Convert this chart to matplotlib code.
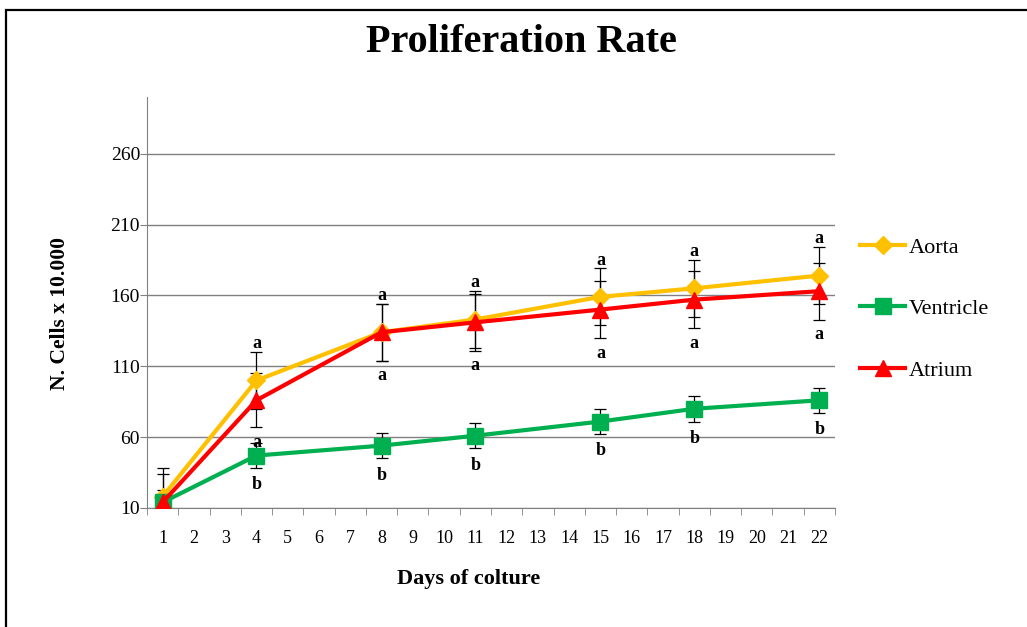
import matplotlib.pyplot as plt
import matplotlib.patches as patches

# dane
days = [1, 4, 8, 11, 15, 18, 22]
aorta = [18, 100, 134, 143, 159, 165, 174]
ventricle = [14, 47, 54, 61, 71, 80, 86]
atrium = [14, 86, 134, 141, 150, 157, 163]
aorta_err = [20, 20, 20, 20, 20, 20, 20]
ventricle_err = [9, 9, 9, 9, 9, 9, 9]
atrium_err = [20, 19, 20, 20, 20, 20, 20]
aorta_sig = ['', 'a', 'a', 'a', 'a', 'a', 'a']
ventricle_sig = ['', 'b', 'b', 'b', 'b', 'b', 'b']
atrium_sig = ['', 'a', 'a', 'a', 'a', 'a', 'a']
yticks = [10, 60, 110, 160, 210, 260]

plt.rcParams['font.family'] = ['Liberation Serif', 'DejaVu Serif']

fig = plt.figure(figsize=(10.27, 6.27), dpi=100)
ax = fig.add_axes([0.1431, 0.1898, 0.6699, 0.6555])

# ramka wykresu
fig.patches.append(patches.Rectangle((5.5 / 1027, -0.1), 1.2, (627 - 9.5) / 627 + 0.1,
                                     transform=fig.transFigure, fill=False,
                                     edgecolor='black', linewidth=1.6, clip_on=False))

ax.errorbar(days, aorta, yerr=aorta_err, fmt='none', ecolor='black', elinewidth=0.9, capsize=4, capthick=0.9, zorder=2)
ax.errorbar(days, atrium, yerr=atrium_err, fmt='none', ecolor='black', elinewidth=0.9, capsize=4, capthick=0.9, zorder=2)
ax.errorbar(days, ventricle, yerr=ventricle_err, fmt='none', ecolor='black', elinewidth=0.9, capsize=4, capthick=0.9, zorder=2)

ax.plot(days, aorta, color='#FFC000', lw=3, marker='D', ms=9, label='Aorta', zorder=3)
ax.plot(days, ventricle, color='#00B050', lw=3, marker='s', ms=11, label='Ventricle', zorder=4)
ax.plot(days, atrium, color='#FF0000', lw=3, marker='^', ms=12, label='Atrium', zorder=5)

# litery istotnosci
for d, v, e, s in zip(days, aorta, aorta_err, aorta_sig):
    if s:
        ax.annotate(s, (d, v + e), xytext=(0, 6), textcoords='offset points',
                    ha='center', va='center', fontsize=13, fontweight='bold')
for d, v, e, s in zip(days, atrium, atrium_err, atrium_sig):
    if s:
        ax.annotate(s, (d, v - e), xytext=(0, -11), textcoords='offset points',
                    ha='center', va='center', fontsize=13, fontweight='bold')
for d, v, e, s in zip(days, ventricle, ventricle_err, ventricle_sig):
    if s:
        ax.annotate(s, (d, v - e), xytext=(0, -12), textcoords='offset points',
                    ha='center', va='center', fontsize=13, fontweight='bold')

ax.set_xlim(0.5, 22.5)
ax.set_ylim(10, 300)
ax.set_xticks(range(1, 23))
ax.set_xticks([i + 0.5 for i in range(0, 23)], minor=True)
ax.tick_params(axis='x', which='major', length=0, pad=16, labelsize=13)
ax.tick_params(axis='x', which='minor', length=5, color='#808080', direction='out')
ax.set_yticks(yticks)
ax.tick_params(axis='y', length=5, color='#808080', labelsize=14, pad=0)
ax.grid(axis='y', color='#808080', lw=1)
ax.set_axisbelow(True)
for sp in ['top', 'right']:
    ax.spines[sp].set_visible(False)
for sp in ['left', 'bottom']:
    ax.spines[sp].set_color('#808080')

ax.set_xlabel('Days of colture', fontsize=16, fontweight='bold')
ax.xaxis.set_label_coords((469 - 147) / 688, -61 / 411)
ax.set_ylabel('N. Cells x 10.000', fontsize=15.5, fontweight='bold')
ax.yaxis.set_label_coords(-77 / 688, (508 - 314) / 411)
fig.text(0.508, 0.933, 'Proliferation Rate', ha='center', va='center', fontsize=29, fontweight='bold')

ax.legend(loc='center left', bbox_to_anchor=(1.024, (508 - 309) / 411), frameon=False, fontsize=16,
          labelspacing=1.85, handlelength=2.0, handletextpad=0.2, borderaxespad=0)

fig.savefig('out.png', dpi=100)
